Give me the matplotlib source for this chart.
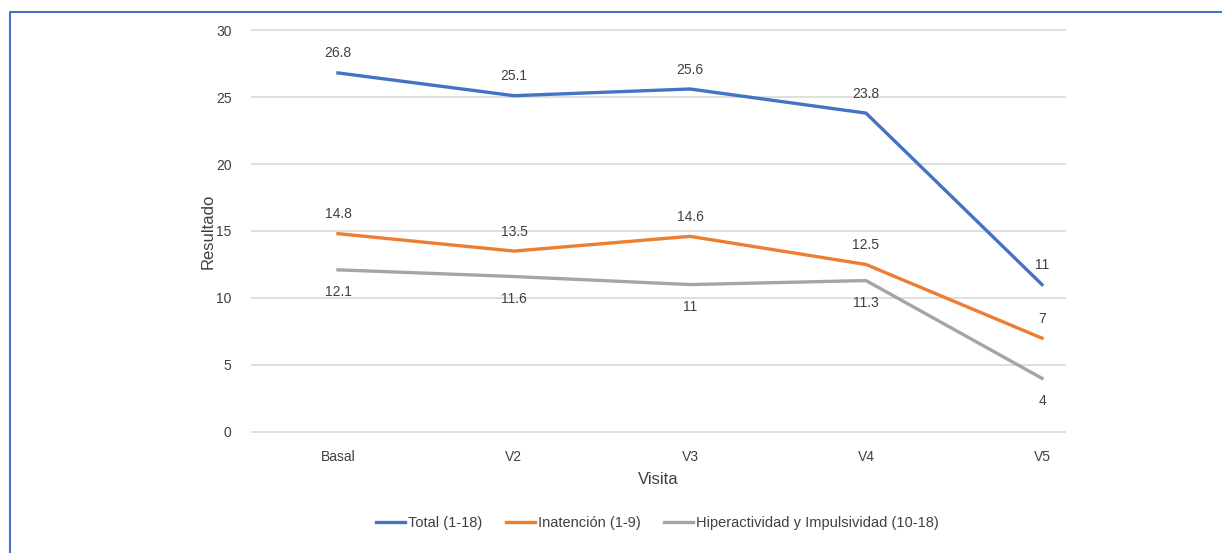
import matplotlib.pyplot as plt
from matplotlib.lines import Line2D

# datos del grafico
visitas = ['Basal', 'V2', 'V3', 'V4', 'V5']
total = [26.8, 25.1, 25.6, 23.8, 11]
inatencion = [14.8, 13.5, 14.6, 12.5, 7]
hiperactividad = [12.1, 11.6, 11, 11.3, 4]

etiquetas_total = ['26.8', '25.1', '25.6', '23.8', '11']
etiquetas_inat = ['14.8', '13.5', '14.6', '12.5', '7']
etiquetas_hiper = ['12.1', '11.6', '11', '11.3', '4']


def main():
    plt.rcParams['font.family'] = ['Liberation Sans Narrow', 'Liberation Sans', 'DejaVu Sans']
    texto = '#404040'

    fig = plt.figure(figsize=(12.22, 5.53), dpi=100)
    ax = fig.add_axes([0.2054, 0.217, 0.6669, 0.7306])

    x = list(range(len(visitas)))
    ax.plot(x, total, color='#4472C4', lw=2.4, label='Total (1-18)', zorder=3)
    ax.plot(x, inatencion, color='#ED7D31', lw=2.4, label='Inatención (1-9)', zorder=3)
    ax.plot(x, hiperactividad, color='#A5A5A5', lw=2.4,
            label='Hiperactividad y Impulsividad (10-18)', zorder=3)

    for xi, v, t in zip(x, total, etiquetas_total):
        ax.annotate(t, (xi, v), xytext=(0, 14), textcoords='offset points',
                    ha='center', va='center', fontsize=10, color=texto)
    for xi, v, t in zip(x, inatencion, etiquetas_inat):
        ax.annotate(t, (xi, v), xytext=(0, 14), textcoords='offset points',
                    ha='center', va='center', fontsize=10, color=texto)
    for xi, v, t in zip(x, hiperactividad, etiquetas_hiper):
        ax.annotate(t, (xi, v), xytext=(0, -16), textcoords='offset points',
                    ha='center', va='center', fontsize=10, color=texto)

    ax.set_xlim(-0.494, 4.136)
    ax.set_ylim(-0.08, 30.08)
    ax.set_yticks(range(0, 31, 5))
    ax.set_xticks(x)
    ax.set_xticklabels(visitas)
    ax.grid(axis='y', color='#D9D9D9', lw=1.2)
    ax.set_axisbelow(True)
    for s in ax.spines.values():
        s.set_visible(False)
    ax.tick_params(length=0, labelsize=10, colors=texto, pad=14)
    ax.tick_params(axis='x', pad=12)

    ax.set_xlabel('Visita', fontsize=12, color=texto, labelpad=6)
    ax.set_ylabel('Resultado', fontsize=12, color=texto, labelpad=0)

    fig.legend(loc='center', bbox_to_anchor=(0.538, 0.054), ncol=3, frameon=False,
               fontsize=10.5, labelcolor=texto, handlelength=2.0, handletextpad=0.2,
               columnspacing=1.6)

    # marco azul
    fig.add_artist(Line2D([10 / 1222, 10 / 1222, 1], [0, 1 - 12 / 553, 1 - 12 / 553],
                          transform=fig.transFigure, color='#4A6FC1', lw=1.5))

    fig.savefig('out.png', dpi=100)


if __name__ == "__main__":
    main()
